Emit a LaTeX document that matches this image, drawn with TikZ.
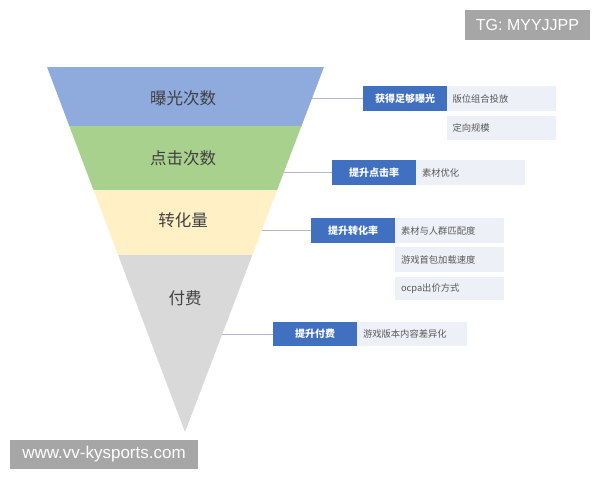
\documentclass[tikz,border=0pt]{standalone}
\usepackage{fontspec}
\setmainfont{Liberation Sans}
\newfontfamily\cjk{Noto Sans CJK SC}
\definecolor{fblue}{HTML}{8FAADC}
\definecolor{fgreen}{HTML}{A9D18E}
\definecolor{fyellow}{HTML}{FFF0C6}
\definecolor{fgray}{HTML}{D9D9D9}
\definecolor{dblue}{HTML}{4170C0}
\definecolor{lbox}{HTML}{EEF0F8}
\definecolor{lline}{HTML}{B0BACE}
\definecolor{wm}{HTML}{A6A6A6}
\definecolor{ftext}{HTML}{404040}
\definecolor{gtext}{HTML}{595959}
\tikzset{
  flabel/.style={font=\cjk\fontsize{16.5}{18}\selectfont, text=ftext},
  bluebox/.style={fill=dblue, text=white, font=\cjk\bfseries\fontsize{10}{12}\selectfont, minimum width=84pt, minimum height=25pt, inner sep=0pt},
  graybox/.style={fill=lbox, text=gtext, font=\cjk\fontsize{9.3}{11}\selectfont, text width=97pt, align=left, inner xsep=6pt, inner ysep=0pt, minimum height=25pt},
  conn/.style={draw=lline, line width=0.8pt},
  wmbox/.style={fill=wm, text=white, inner sep=0pt}
}
\begin{document}
\begin{tikzpicture}[x=1pt,y=-1pt]
\useasboundingbox (0,0) rectangle (600,480);
\fill[white] (0,0) rectangle (600,480);
% funnel bands
\fill[fblue] (47,67) -- (324,67) -- (301.5,126) -- (69.3,126) -- cycle;
\fill[fgreen] (69.3,126) -- (301.5,126) -- (277.1,190) -- (93.5,190) -- cycle;
\fill[fyellow] (93.5,190) -- (277.1,190) -- (252.4,255) -- (118.1,255) -- cycle;
\fill[fgray] (118.1,255) -- (252.4,255) -- (185,432) -- cycle;
\node[flabel] (l1) at (183,98) {曝光次数};
\node[flabel] (l2) at (183,158) {点击次数};
\node[flabel] (l3) at (183,220) {转化量};
\node[flabel] (l4) at (185,298) {付费};
% edge coordinates
\coordinate (c1) at (312,98.5);
\coordinate (c2) at (284,172.5);
\coordinate (c3) at (262,230.5);
\coordinate (c4) at (222,334);
% blue boxes
\node[bluebox] (b1) at (405,98.5) {获得足够曝光};
\node[bluebox] (b2) at (374,172.5) {提升点击率};
\node[bluebox] (b3) at (353,230.5) {提升转化率};
\node[bluebox, minimum height=24pt] (b4) at (315,334) {提升付费};
% gray boxes
\node[graybox] (g11) at (501,98.5) {版位组合投放};
\node[graybox, minimum height=24pt] (g12) at (501,128) {定向规模};
\node[graybox] (g21) at (470.5,172.5) {素材优化};
\node[graybox] (g31) at (449.5,230.5) {素材与人群匹配度};
\node[graybox] (g32) at (449.5,259.5) {游戏首包加载速度};
\node[graybox, minimum height=23pt] (g33) at (449.5,288.5) {ocpa出价方式};
\node[graybox, text width=98pt, minimum height=24pt] (g41) at (412,334) {游戏版本内容差异化};
% connectors
\draw[conn] (c1) -- (b1.west);
\draw[conn] (c2) -- (b2.west);
\draw[conn] (c3) -- (b3.west);
\draw[conn] (c4) -- (b4.west);
% watermarks
\node[wmbox, minimum width=125pt, minimum height=30pt, font=\fontsize{16}{18}\selectfont] (w1) at (527.5,25) {TG: MYYJJPP};
\node[wmbox, minimum width=188pt, minimum height=29pt, font=\fontsize{17}{19}\selectfont] (w2) at (104,454.5) {www.vv-kysports.com};
\end{tikzpicture}
\end{document}
